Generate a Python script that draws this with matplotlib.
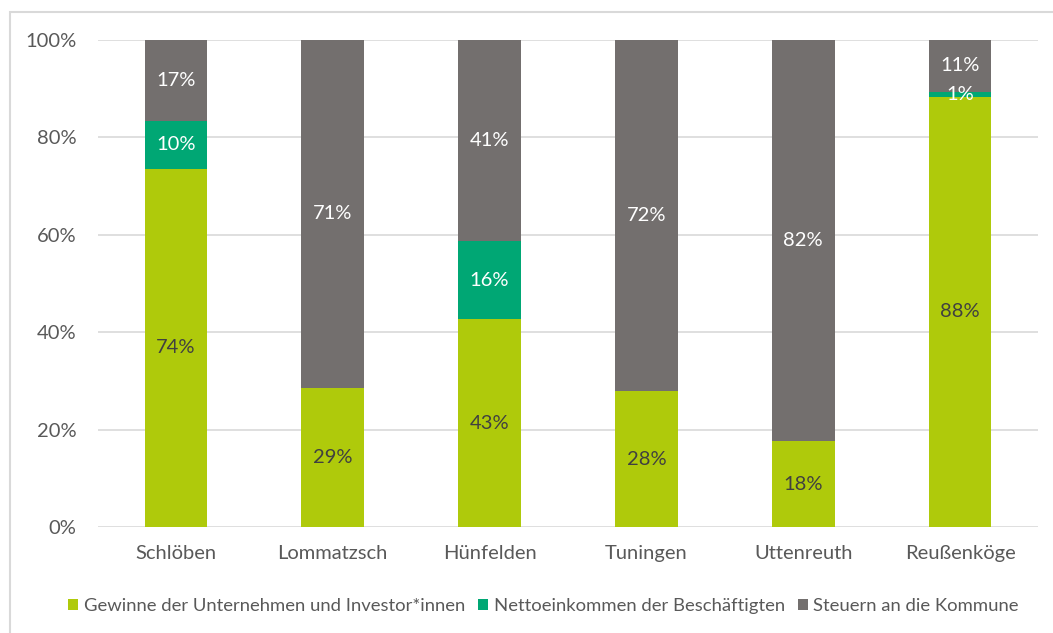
import matplotlib.pyplot as plt
from matplotlib.patches import Rectangle
import numpy as np

plt.rcParams['font.family'] = ['Lato', 'DejaVu Sans']

# data (shares in %)
orte = ['Schlöben', 'Lommatzsch', 'Hünfelden', 'Tuningen', 'Uttenreuth', 'Reußenköge']
gewinne = [73.6, 28.6, 42.7, 27.9, 17.6, 88.3]
netto = [9.8, 0, 16.0, 0, 0, 1.1]
steuern = [16.6, 71.4, 41.3, 72.1, 82.4, 10.6]

serien = ['Gewinne der Unternehmen und Investor*innen',
          'Nettoeinkommen der Beschäftigten',
          'Steuern an die Kommune']
farben = ['#afca0b', '#00a774', '#736f6e']
textfarben = ['#404040', 'white', 'white']

fig = plt.figure(figsize=(10.53, 6.33), dpi=100)
ax = fig.add_axes([0.0926, 0.1675, 0.8936, 0.7693])

x = np.arange(len(orte))
unten = np.zeros(len(orte))
for werte, farbe, tf, name in zip([gewinne, netto, steuern], farben, textfarben, serien):
    werte = np.array(werte)
    ax.bar(x, werte, 0.4, bottom=unten, color=farbe, label=name, zorder=3)
    for xi, b, v in zip(x, unten, werte):
        if v > 0:
            ax.text(xi, b + v / 2, '{:.0f}%'.format(v), ha='center', va='center',
                    color=tf, fontsize=14.5, zorder=4)
    unten = unten + werte

ax.set_xlim(-0.5, len(orte) - 0.5)
ax.set_ylim(0, 100)
ax.set_yticks(range(0, 101, 20))
ax.set_yticklabels(['{}%'.format(t) for t in range(0, 101, 20)])
ax.set_xticks(x)
ax.set_xticklabels(orte)
ax.tick_params(length=0, labelsize=14.5, labelcolor='#595959')
ax.tick_params(axis='x', pad=13)
ax.tick_params(axis='y', pad=15)
ax.grid(axis='y', color='#d9d9d9', lw=1.2, zorder=0)
for s in ax.spines.values():
    s.set_visible(False)

leg = fig.legend(loc='center', bbox_to_anchor=(0.516, 0.043), ncol=3, frameon=False,
                 fontsize=13.3, handlelength=0.55, handleheight=0.55, handletextpad=0.3,
                 columnspacing=0.7)
for t in leg.get_texts():
    t.set_color('#595959')

# light border of the chart area
fig.patches.append(Rectangle((10 / 1053, -0.1), 1.2, 1 - 12 / 633 + 0.1,
                             transform=fig.transFigure, fill=False,
                             edgecolor='#d9d9d9', lw=1.5))

plt.savefig('out.png')
